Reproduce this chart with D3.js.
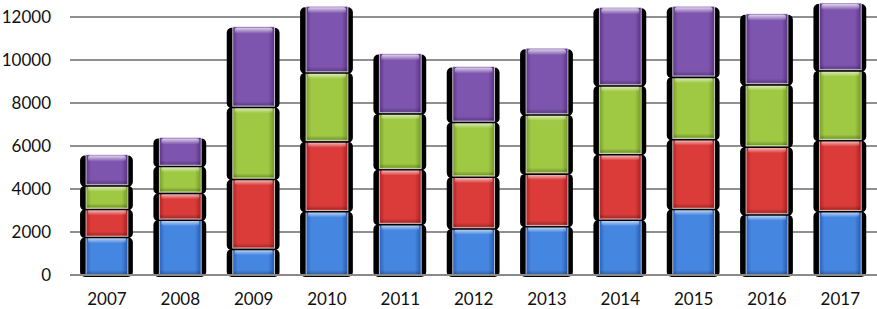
<!DOCTYPE html>
<meta charset="utf-8">
<script src="https://d3js.org/d3.v7.min.js"></script>
<style>
body { margin: 0; background: #fff; }
svg text { font-family: "Lato", "Open Sans", sans-serif; font-size: 17px; fill: #111; }
</style>
<svg id="chart" width="877" height="309"></svg>
<script>
// data
const years = ["2007", "2008", "2009", "2010", "2011", "2012", "2013", "2014", "2015", "2016", "2017"];
const blue   = [1800, 2600, 1250, 3000, 2400, 2200, 2300, 2600, 3100, 2850, 3000];
const red    = [1300, 1250, 3250, 3250, 2550, 2400, 2450, 3050, 3250, 3150, 3300];
const green  = [1100, 1250, 3350, 3200, 2600, 2550, 2750, 3200, 2900, 2900, 3250];
const purple = [1400, 1300, 3700, 3050, 2750, 2550, 3050, 3600, 3250, 3250, 3100];
const yTicks = [0, 2000, 4000, 6000, 8000, 10000, 12000];

const seriesNames = ["blue", "red", "green", "purple"];
const colors = {
  blue:   ["#2a62bb", "#4586e0", "#2659ae"],
  red:    ["#b42222", "#db3c3a", "#a81f1f"],
  green:  ["#7aa028", "#9fc843", "#739825"],
  purple: ["#5e348a", "#7e55ae", "#583183"]
};

const table = years.map((y, i) => ({
  year: y, blue: blue[i], red: red[i], green: green[i], purple: purple[i]
}));
const stacked = d3.stack().keys(seriesNames)(table);

const svg = d3.select("#chart");

const x = d3.scaleBand()
  .domain(years)
  .range([70.3, 877])
  .paddingInner(0.43)
  .paddingOuter(0.215);

const y = d3.scaleLinear()
  .domain([0, 12000])
  .range([275, 17]);

// gradients
const defs = svg.append("defs");
seriesNames.forEach(s => {
  const g = defs.append("linearGradient")
    .attr("id", "g-" + s)
    .attr("x1", 0).attr("x2", 1).attr("y1", 0).attr("y2", 0);
  g.append("stop").attr("offset", "0%").attr("stop-color", colors[s][0]);
  g.append("stop").attr("offset", "12%").attr("stop-color", colors[s][1]);
  g.append("stop").attr("offset", "85%").attr("stop-color", colors[s][1]);
  g.append("stop").attr("offset", "100%").attr("stop-color", colors[s][2]);
});
const hl = defs.append("linearGradient")
  .attr("id", "hl").attr("x1", 0).attr("x2", 0).attr("y1", 0).attr("y2", 1);
hl.append("stop").attr("offset", "0%").attr("stop-color", "#fff").attr("stop-opacity", 0.75);
hl.append("stop").attr("offset", "100%").attr("stop-color", "#fff").attr("stop-opacity", 0);
const sh = defs.append("linearGradient")
  .attr("id", "sh").attr("x1", 0).attr("x2", 0).attr("y1", 0).attr("y2", 1);
sh.append("stop").attr("offset", "0%").attr("stop-color", "#000").attr("stop-opacity", 0);
sh.append("stop").attr("offset", "100%").attr("stop-color", "#000").attr("stop-opacity", 0.25);

// gridlines
svg.append("g")
  .selectAll("line")
  .data(yTicks.filter(d => d > 0))
  .join("line")
  .attr("x1", 70).attr("x2", 877)
  .attr("y1", d => y(d)).attr("y2", d => y(d))
  .attr("stroke", "#909090")
  .attr("stroke-width", 2);

// y labels
svg.append("g")
  .selectAll("text")
  .data(yTicks)
  .join("text")
  .attr("x", 51)
  .attr("y", d => y(d))
  .attr("dy", "0.36em")
  .attr("text-anchor", "end")
  .text(d => d);

// bar segments
const layers = svg.append("g")
  .selectAll("g")
  .data(stacked)
  .join("g");

const segs = layers.selectAll("g")
  .data(d => d.map(v => ({ key: d.key, v: v })))
  .join("g");

const bw = x.bandwidth();

// black shadow behind each segment
segs.append("rect")
  .attr("x", d => x(d.v.data.year) - 6)
  .attr("y", d => y(d.v[1]) + 1)
  .attr("width", bw + 11)
  .attr("height", d => Math.max(0, y(d.v[0]) - y(d.v[1]) + 1))
  .attr("rx", 5)
  .attr("fill", "#000");

segs.append("rect")
  .attr("x", d => x(d.v.data.year))
  .attr("y", d => y(d.v[1]))
  .attr("width", bw)
  .attr("height", d => y(d.v[0]) - y(d.v[1]))
  .attr("fill", d => "url(#g-" + d.key + ")")
  .attr("stroke", "rgba(255,255,255,0.7)")
  .attr("stroke-width", 1);

// top bevel highlight
segs.append("rect")
  .attr("x", d => x(d.v.data.year) + 2)
  .attr("y", d => y(d.v[1]) + 1)
  .attr("width", bw - 4)
  .attr("height", 6)
  .attr("rx", 2)
  .attr("fill", "url(#hl)");

// bottom darkening
segs.append("rect")
  .attr("x", d => x(d.v.data.year) + 1)
  .attr("y", d => y(d.v[0]) - 5)
  .attr("width", bw - 2)
  .attr("height", 4)
  .attr("fill", "url(#sh)");

// baseline
svg.append("line")
  .attr("x1", 70).attr("x2", 877)
  .attr("y1", y(0)).attr("y2", y(0))
  .attr("stroke", "#8a8a8a")
  .attr("stroke-width", 2);

// x labels
svg.append("g")
  .selectAll("text")
  .data(years)
  .join("text")
  .attr("x", d => x(d) + bw / 2)
  .attr("y", 305)
  .attr("text-anchor", "middle")
  .text(d => d);
</script>
